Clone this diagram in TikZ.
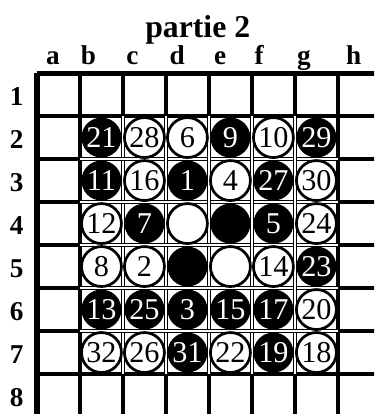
\documentclass[tikz,border=0pt]{standalone}
\usepackage{fontspec}
\setmainfont{Liberation Serif}
\begin{document}
\begin{tikzpicture}[x=1cm,y=1cm,
  disc/.style={circle,minimum size=0.93cm,inner sep=0pt,font=\fontsize{20}{20}\selectfont},
  cerny/.style={disc,fill=black,text=white},
  bily/.style={disc,draw=black,line width=1.8pt,fill=white,text=black},
  popis/.style={font=\fontsize{18}{18}\selectfont\bfseries}]
  % okraje obrazku, deska je vpravo a dole oriznuta
  \useasboundingbox (-0.86,1.70) rectangle (7.84,-7.93);
  \clip (-0.86,1.70) rectangle (7.84,-7.93);
  % nadpis a popisky sloupcu a radku
  \node[font=\fontsize{21}{21}\selectfont\bfseries] (nadpis) at (3.74,1.0) {partie 2};
  \foreach \l/\x in {a/0.37,b/1.2,c/2.22,d/3.26,e/4.26,f/5.17,g/6.21,h/7.37}
    \node[popis,anchor=base] (sl-\l) at (\x,0.19) {\l};
  \foreach \r in {1,...,8}
    \node[popis] (rd-\r) at (-0.47,{-(\r-0.5)-0.05}) {\r};
  % mrizka
  \foreach \i in {1,...,8}{
    \draw[line width=2.2pt] (0,-\i)--(8.2,-\i);
    \draw[line width=2.2pt] (\i,0)--(\i,-8.2);
  }
  \draw[line width=3.2pt] (0,0)--(8.2,0);
  \draw[line width=4pt] (0,0)--(0,-8.2);
  % zdvojene cary mezi kameny
  \foreach \i in {2,...,6}{
    \draw[double,line width=0.8pt,double distance=1.1pt] (\i,-1)--(\i,-7);
    \draw[double,line width=0.8pt,double distance=1.1pt] (1,-\i)--(7,-\i);
  }
  % kameny: sloupec/radek/barva/tah
  \foreach \c/\r/\s/\t in {
      2/2/cerny/21, 3/2/bily/28, 4/2/bily/6, 5/2/cerny/9, 6/2/bily/10, 7/2/cerny/29,
      2/3/cerny/11, 3/3/bily/16, 4/3/cerny/1, 5/3/bily/4, 6/3/cerny/27, 7/3/bily/30,
      2/4/bily/12, 3/4/cerny/7, 4/4/bily/, 5/4/cerny/, 6/4/cerny/5, 7/4/bily/24,
      2/5/bily/8, 3/5/bily/2, 4/5/cerny/, 5/5/bily/, 6/5/bily/14, 7/5/cerny/23,
      2/6/cerny/13, 3/6/cerny/25, 4/6/cerny/3, 5/6/cerny/15, 6/6/cerny/17, 7/6/bily/20,
      2/7/bily/32, 3/7/bily/26, 4/7/cerny/31, 5/7/bily/22, 6/7/cerny/19, 7/7/bily/18}
    \node[\s] (k-\c-\r) at ({\c-0.5},{-(\r-0.5)}) {\t};
\end{tikzpicture}
\end{document}
